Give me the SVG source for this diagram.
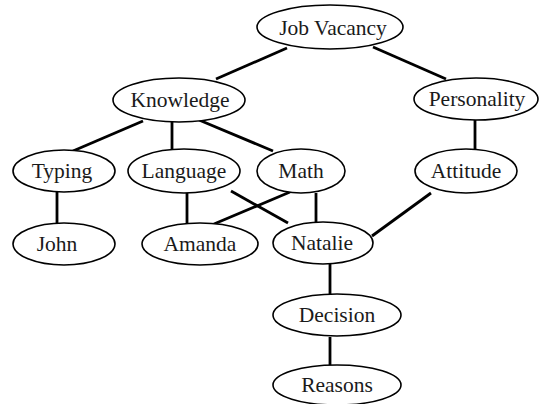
<svg xmlns="http://www.w3.org/2000/svg" width="547" height="404" viewBox="0 0 547 404">
<style>
ellipse{fill:#fff;stroke:#000;stroke-width:1.6}
text{font-family:"Liberation Serif","Times New Roman",serif;font-size:21.5px;text-anchor:middle;fill:#1a1a1a}
#edges line{stroke:#000;stroke-width:2.8}
</style>
<rect width="547" height="404" fill="#fff"/>
<g id="edges">
<line x1="287" y1="48" x2="216" y2="79"/>
<line x1="373" y1="47" x2="446" y2="79"/>
<line x1="143" y1="121" x2="73" y2="151"/>
<line x1="172" y1="122" x2="172" y2="149"/>
<line x1="199" y1="120" x2="273" y2="151"/>
<line x1="475" y1="120" x2="475" y2="150"/>
<line x1="57" y1="192" x2="57" y2="223"/>
<line x1="187" y1="193" x2="187" y2="223"/>
<line x1="231" y1="191" x2="288" y2="223"/>
<line x1="290" y1="192" x2="214" y2="224"/>
<line x1="316" y1="193" x2="316" y2="222"/>
<line x1="431" y1="193" x2="372" y2="236"/>
<line x1="330" y1="264" x2="330" y2="294"/>
<line x1="330" y1="337" x2="330" y2="365"/>
</g>
<g id="job-vacancy"><ellipse cx="330" cy="27" rx="73" ry="22"/><text x="333" y="35">Job Vacancy</text></g>
<g id="knowledge"><ellipse cx="179" cy="100" rx="66" ry="22"/><text x="180" y="107">Knowledge</text></g>
<g id="personality"><ellipse cx="476" cy="99" rx="62" ry="21"/><text x="477" y="106">Personality</text></g>
<g id="typing"><ellipse cx="64" cy="171" rx="51" ry="21"/><text x="62" y="178">Typing</text></g>
<g id="language"><ellipse cx="184" cy="171" rx="56" ry="22"/><text x="184" y="178">Language</text></g>
<g id="math"><ellipse cx="301" cy="171" rx="44" ry="22"/><text x="301" y="178">Math</text></g>
<g id="attitude"><ellipse cx="466" cy="171" rx="51" ry="22"/><text x="466" y="178">Attitude</text></g>
<g id="john"><ellipse cx="64" cy="244" rx="51" ry="21"/><text x="57" y="251">John</text></g>
<g id="amanda"><ellipse cx="200" cy="244" rx="58" ry="21"/><text x="200" y="251">Amanda</text></g>
<g id="natalie"><ellipse cx="323" cy="243" rx="50" ry="21"/><text x="322" y="250">Natalie</text></g>
<g id="decision"><ellipse cx="337" cy="315" rx="64" ry="21"/><text x="337" y="322">Decision</text></g>
<g id="reasons"><ellipse cx="337" cy="385" rx="64" ry="20"/><text x="337" y="392">Reasons</text></g>
</svg>
